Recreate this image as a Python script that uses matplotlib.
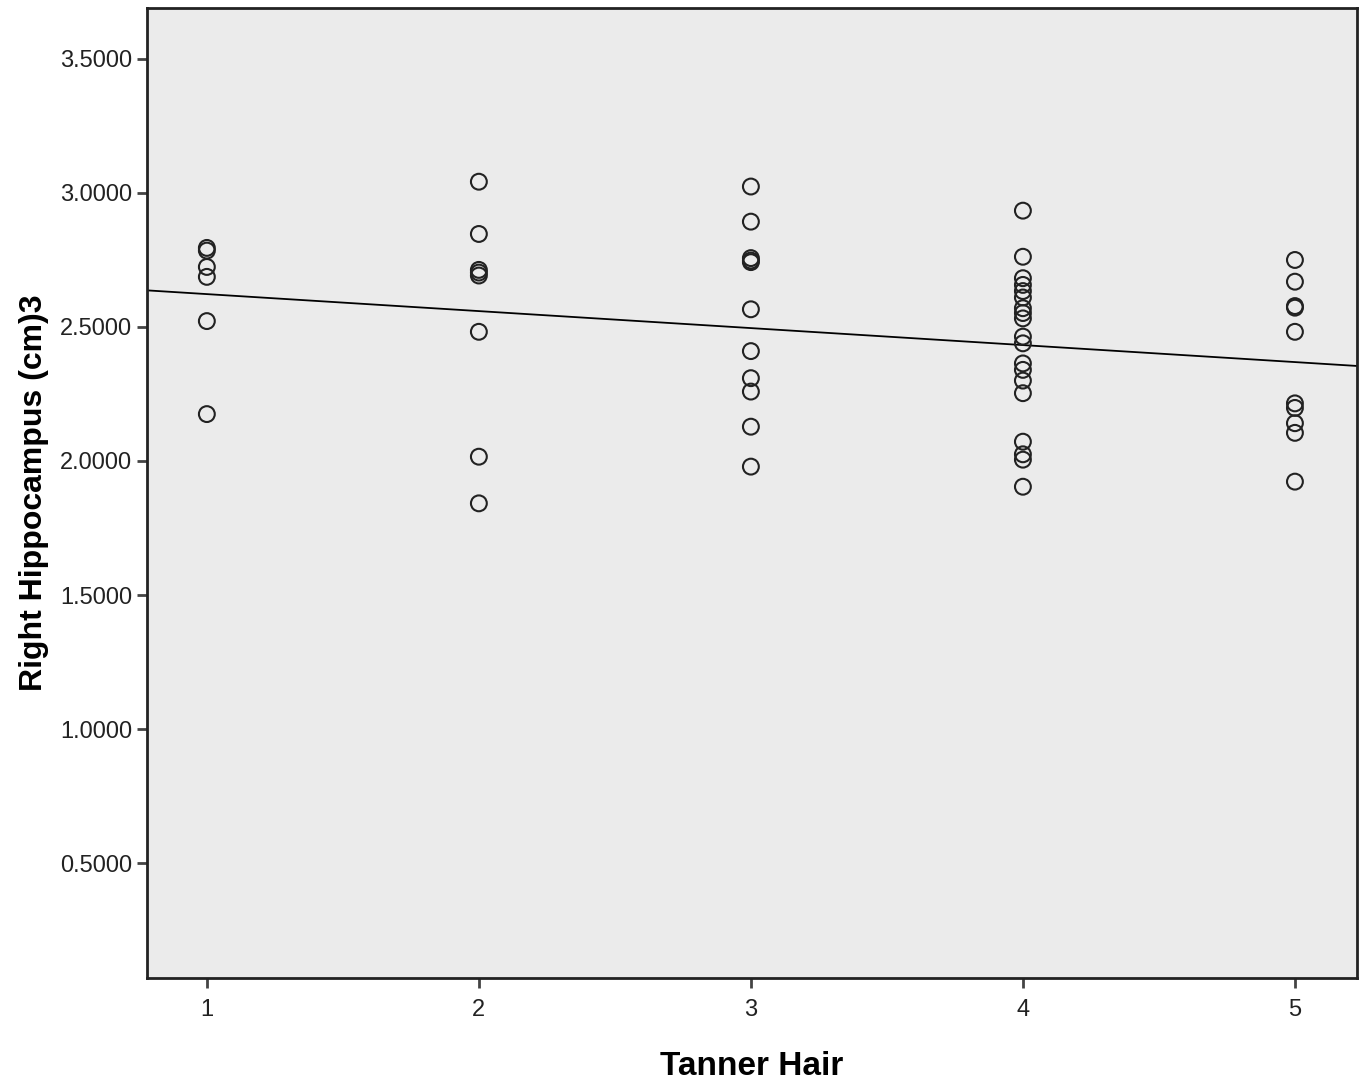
import numpy as np
import matplotlib
matplotlib.use('Agg')
from matplotlib import pyplot as plt

plt.rcParams['font.family'] = ['Liberation Sans', 'DejaVu Sans']

# Tanner hair stage groups and right hippocampus volumes (cm3)
stage1 = [2.795, 2.785, 2.724, 2.687, 2.522, 2.175]
stage2 = [3.042, 2.847, 2.713, 2.703, 2.692, 2.482, 2.016, 1.842]
stage3 = [3.024, 2.893, 2.757, 2.748, 2.742, 2.566, 2.410, 2.309, 2.259, 2.128, 1.979]
stage4 = [2.934, 2.762, 2.682, 2.657, 2.634, 2.610, 2.570, 2.552, 2.532, 2.464,
          2.439, 2.364, 2.340, 2.300, 2.253, 2.072, 2.025, 2.005, 1.904]
stage5 = [2.750, 2.669, 2.578, 2.572, 2.482, 2.215, 2.198, 2.141, 2.105, 1.923]

groups = [stage1, stage2, stage3, stage4, stage5]
stages = [1, 2, 3, 4, 5]
y_ticks = [0.5, 1.0, 1.5, 2.0, 2.5, 3.0, 3.5]

x = np.concatenate([[s] * len(g) for s, g in zip(stages, groups)])
y = np.concatenate(groups)

fig = plt.figure(figsize=(13.65, 10.85), dpi=100)
ax = fig.add_axes([0.1077, 0.0986, 0.8864, 0.894])
ax.set_facecolor('#ebebeb')

ax.scatter(x, y, s=130, facecolors='none', edgecolors='#222222', linewidths=1.5, zorder=3)

slope, intercept = np.polyfit(x, y, 1)
xl = np.array([0.78, 5.228])
ax.plot(xl, intercept + slope * xl, color='black', linewidth=1.3, zorder=2)

ax.set_xlim(0.78, 5.228)
ax.set_ylim(0.071, 3.69)
ax.set_xticks(stages)
ax.set_yticks(y_ticks)
ax.set_yticklabels([f'{v:.4f}' for v in y_ticks])
ax.tick_params(axis='both', direction='out', length=7, width=2, color='#444444',
               labelsize=17, labelcolor='#222222')
ax.tick_params(axis='x', pad=8)
for sp in ax.spines.values():
    sp.set_linewidth(2)
    sp.set_color('#222222')

ax.set_xlabel('Tanner Hair', fontsize=24, fontweight='bold', labelpad=22)
ax.set_ylabel('Right Hippocampus (cm)3', fontsize=23, fontweight='bold', labelpad=8)

fig.savefig('out.png', dpi=100)
